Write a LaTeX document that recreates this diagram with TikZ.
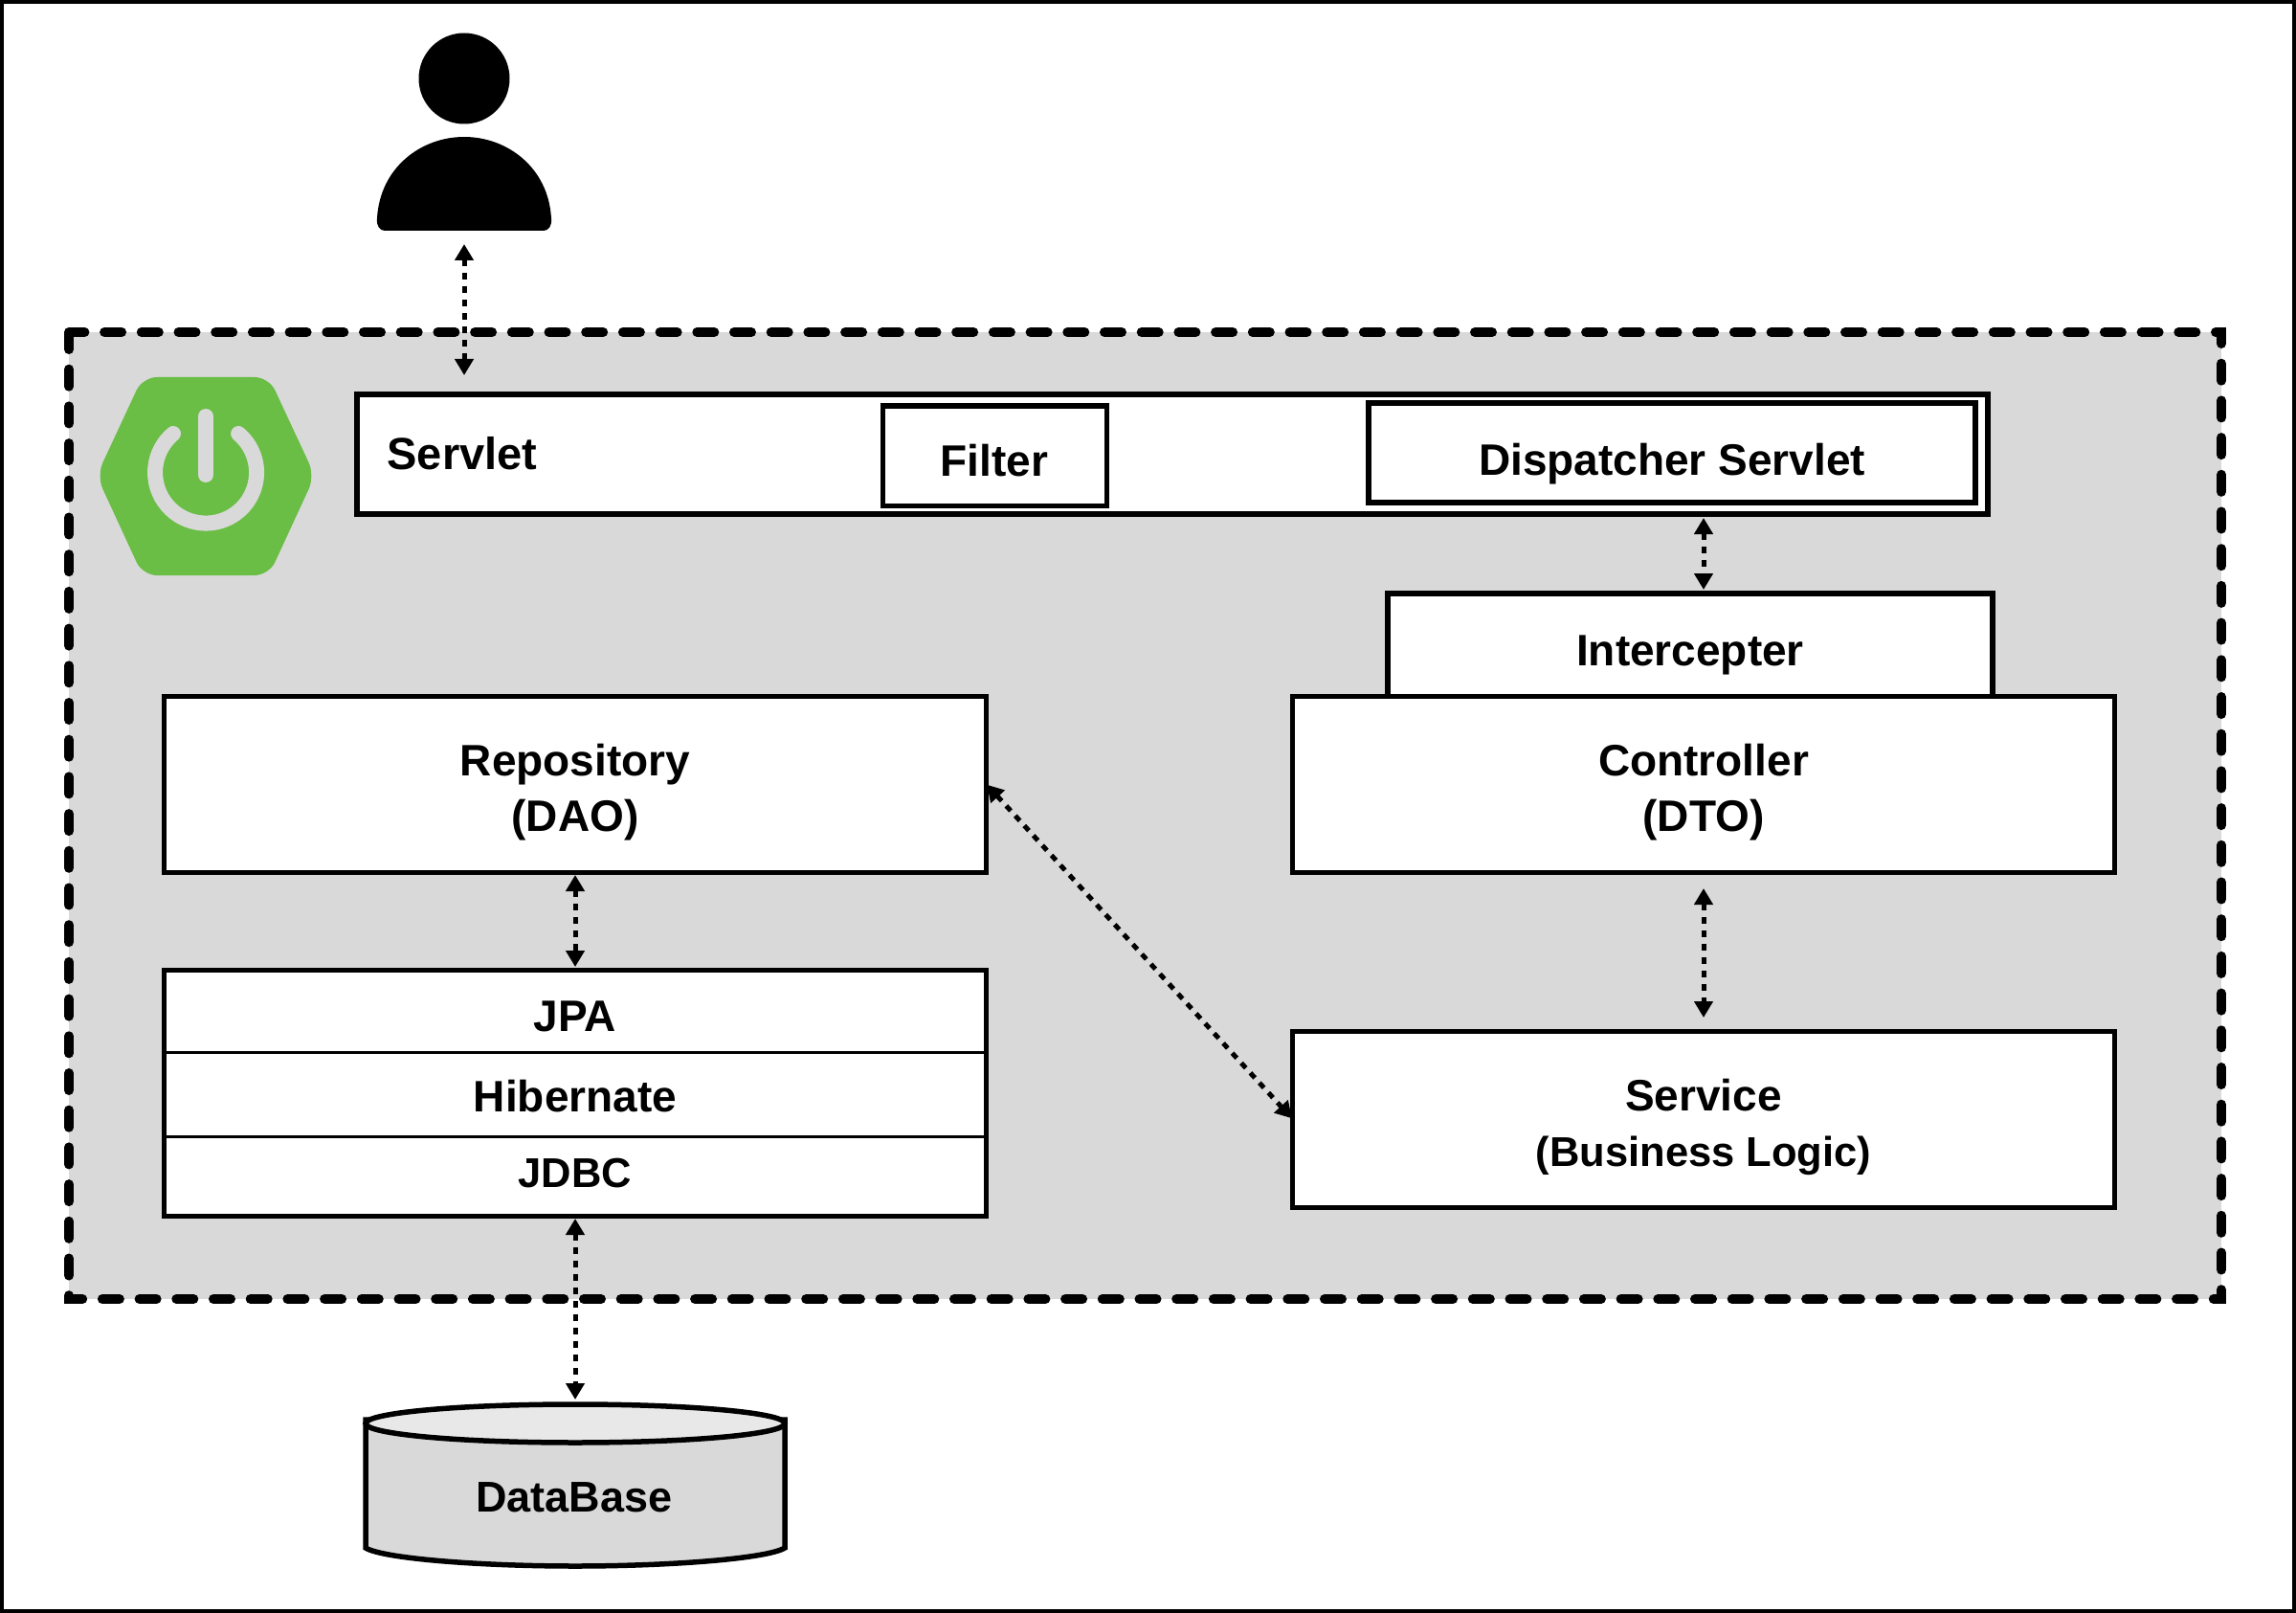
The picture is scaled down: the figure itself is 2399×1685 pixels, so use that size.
\documentclass[tikz,border=0pt]{standalone}
\usepackage{fontspec}
\setmainfont{Liberation Sans}
\usetikzlibrary{arrows.meta,calc}
\definecolor{panelgray}{HTML}{D9D9D9}
\definecolor{springgreen}{HTML}{6ABD45}
\definecolor{dbtopgray}{HTML}{E8E8E8}
\newcommand{\lowtext}[2][9pt]{\raisebox{-#1}[\height][\depth]{#2}}
\newcommand{\smalltext}[1]{{\fontsize{43.5}{58}\selectfont #1}}
\tikzset{
  boxnode/.style={draw=black,fill=white,line width=5pt,inner sep=0pt,outer sep=0pt,align=center,
    font=\fontsize{46}{58}\selectfont\bfseries},
  labelnode/.style={inner sep=0pt,outer sep=0pt,align=center,font=\fontsize{46}{58}\selectfont\bfseries},
  link/.style={line width=5pt,dash pattern=on 7pt off 7pt,
    {Triangle[length=17pt,width=19pt]}-{Triangle[length=17pt,width=19pt]}},
}
\begin{document}
\begin{tikzpicture}[x=1pt,y=-1pt]
\useasboundingbox (0,0) rectangle (2399,1685);
\fill[white] (0,0) rectangle (2399,1685);
\draw[line width=4pt] (2,2) rectangle (2397,1683);
% panel
\draw[fill=panelgray,line width=10pt,line cap=round,dash pattern=on 18pt off 20.7pt] (72,347) rectangle (2321,1357);
% person
\node[fill=none,draw=none,minimum width=184pt,minimum height=207pt,inner sep=0pt,outer sep=0pt] (person) at (485,137.5) {};
\fill[black] (485,82) ellipse [x radius=47.5pt,y radius=47.5pt];
\fill[black] (394,228) .. controls (397,175) and (440,143) .. (485,143)
  .. controls (530,143) and (573,175) .. (576,228)
  .. controls (577,236) and (573,241) .. (568,241) -- (402,241)
  .. controls (397,241) and (393,236) .. (394,228) -- cycle;
% logo
\fill[springgreen,rounded corners=15pt] (149,394) -- (281,394) -- (329,497) -- (281,601) -- (149,601) -- (101,497) -- cycle;
\draw[panelgray,line width=16pt,line cap=round] (181,453) arc[start angle=130,delta angle=280,radius=53pt];
\draw[panelgray,line width=16pt,line cap=round] (215,435) -- (215,496);
% servlet band
\node[boxnode,line width=6pt,minimum width=1704pt,minimum height=125pt] (servlet) at (1225,474.5) {};
\node[labelnode] (servletlabel) at (483,474) {\fontsize{47}{58}\selectfont Servlet};
\node[boxnode,minimum width=234pt,minimum height=104pt] (filter) at (1039,476) {\lowtext[5pt]{Filter}};
\node[boxnode,line width=6pt,minimum width=634pt,minimum height=104pt] (dispatcher) at (1747,473) {\lowtext[12pt]{Dispatcher Servlet}};
% right column
\node[boxnode,line width=6pt,minimum width=632pt,minimum height=110pt] (intercepter) at (1766,675) {\lowtext{Intercepter}};
\node[boxnode,minimum width=859pt,minimum height=184pt] (controller) at (1780,819) {\lowtext{Controller}\\\lowtext{(DTO)}};
\node[boxnode,minimum width=859pt,minimum height=184pt] (service) at (1780,1169) {\lowtext[8pt]{Service}\\\lowtext[8pt]{\smalltext{(Business Logic)}}};
% left column
\node[boxnode,minimum width=859pt,minimum height=184pt] (repository) at (601,819) {\lowtext{Repository}\\\lowtext{(DAO)}};
\node[boxnode,line width=3pt,minimum width=859pt,minimum height=86pt] (jpa) at (601,1056) {\lowtext[6pt]{JPA}};
\node[boxnode,line width=3pt,minimum width=859pt,minimum height=88pt] (hibernate) at (601,1143) {\lowtext[2pt]{Hibernate}};
\node[boxnode,line width=3pt,minimum width=859pt,minimum height=83pt] (jdbc) at (601,1228.5) {\lowtext[-3pt]{\smalltext{JDBC}}};
\draw[line width=5pt] (jpa.north west) rectangle (jdbc.south east);
% database
\draw[fill=panelgray,line width=5.5pt] (382,1483) -- (382,1617) .. controls (400,1628) and (500,1636) .. (601,1636)
  .. controls (702,1636) and (802,1628) .. (820,1617) -- (820,1483) -- cycle;
\draw[fill=dbtopgray,line width=5.5pt] (601,1487) ellipse [x radius=219pt,y radius=20pt];
\node[labelnode] (database) at (600,1564) {\fontsize{45}{58}\selectfont DataBase};
\coordinate (dbtop) at (601,1462);
% connectors
\draw[link,shorten <=14pt,shorten >=20pt] (person.south) -- (person.south |- servlet.north);
\draw[link,shorten <=4pt,shorten >=4pt] (controller.north |- servlet.south) -- (controller.north |- intercepter.north);
\draw[link,shorten <=17pt,shorten >=14pt] (controller.south) -- (service.north);
\draw[link,shorten <=3pt,shorten >=3pt] (repository.south) -- (jpa.north);
\draw[link,shorten <=3pt,shorten >=0pt] (jdbc.south) -- (dbtop);
\draw[link,shorten <=1pt,shorten >=1pt] (repository.east) -- (service.west);
\end{tikzpicture}
\end{document}
